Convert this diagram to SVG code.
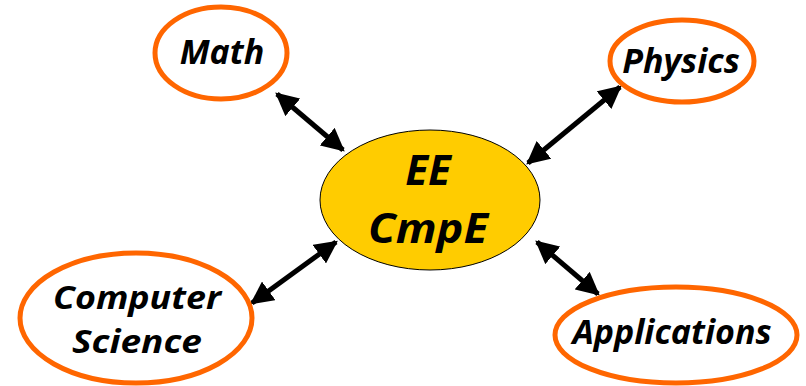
<svg xmlns="http://www.w3.org/2000/svg" width="806" height="386" viewBox="0 0 806 386">
<style>
.sat{fill:#fff;stroke:#FF6600;stroke-width:5}
.hub{fill:#FFCC00;stroke:#000;stroke-width:1}
.t{font-family:"Open Sans","DejaVu Sans",sans-serif;font-weight:bold;font-style:italic;fill:#000;text-anchor:middle}
.c{stroke:#000;stroke-width:5;fill:none;marker-start:url(#ah);marker-end:url(#ah)}
</style>
<defs>
<marker id="ah" viewBox="0 0 10 10" refX="9" refY="5" markerWidth="4.6" markerHeight="4.6" orient="auto-start-reverse" markerUnits="strokeWidth">
<path d="M0,0 L10,5 L0,10 Z" fill="#000"/>
</marker>
</defs>
<g id="connectors">
<line class="c" x1="277" y1="94" x2="343" y2="150"/>
<line class="c" x1="620" y1="87" x2="528" y2="163"/>
<line class="c" x1="252" y1="303" x2="336" y2="242"/>
<line class="c" x1="537" y1="242" x2="598" y2="294"/>
</g>
<g id="hub">
<ellipse class="hub" cx="430" cy="200" rx="110" ry="70"/>
<text class="t" x="428" y="185" font-size="42">EE</text>
<text class="t" x="428" y="243" font-size="42" textLength="120" lengthAdjust="spacingAndGlyphs">CmpE</text>
</g>
<g id="math">
<ellipse class="sat" cx="221" cy="53" rx="66" ry="46"/>
<text class="t" x="222" y="64" font-size="34">Math</text>
</g>
<g id="physics">
<ellipse class="sat" cx="682" cy="61" rx="72" ry="41"/>
<text class="t" x="681" y="73" font-size="34">Physics</text>
</g>
<g id="cs">
<ellipse class="sat" cx="136" cy="318" rx="116" ry="65"/>
<text class="t" x="137" y="309" font-size="32" textLength="168" lengthAdjust="spacingAndGlyphs">Computer</text>
<text class="t" x="137" y="353" font-size="32" textLength="130" lengthAdjust="spacingAndGlyphs">Science</text>
</g>
<g id="apps">
<ellipse class="sat" cx="676" cy="335" rx="121" ry="48"/>
<text class="t" x="672" y="344" font-size="34">Applications</text>
</g>
</svg>
